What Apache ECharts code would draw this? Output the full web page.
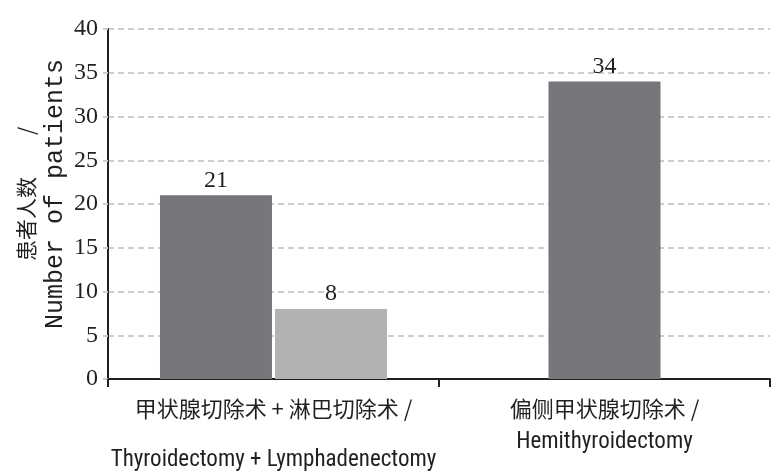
<!DOCTYPE html>
<html>
<head>
<meta charset="utf-8">
<script src="https://cdn.jsdelivr.net/npm/echarts@6/dist/echarts.min.js"></script>
<style>html,body{margin:0;padding:0;background:#fff;}#c{width:784px;height:476px;}</style>
</head>
<body>
<div id="c"></div>
<script>
var catCN = ['甲状腺切除术 + 淋巴切除术 /', '偏侧甲状腺切除术 /'];
var catEN = ['Thyroidectomy + Lymphadenectomy', 'Hemithyroidectomy'];
var categories = ['Thyroidectomy + Lymphadenectomy', 'Hemithyroidectomy'];
var darkValues = [21, '-'];
var lightValues = [8, '-'];
var hemiValues = ['-', 34];
var yTicks = [0, 5, 10, 15, 20, 25, 30, 35, 40];

var serif = 'Liberation Serif';
var narrow = 'Roboto Condensed';
var cjk = 'Noto Sans CJK SC';
var mono = 'Liberation Mono';
var ink = '#231f20';
var dark = '#77777b';
var light = '#b2b2b4';

var chart = echarts.init(document.getElementById('c'), null, {renderer: 'canvas'});
var valLabel = {show: true, position: 'top', distance: 3, color: ink, fontFamily: serif, fontSize: 24};
chart.setOption({
  animation: false,
  grid: {left: 108, right: 14, top: 29, bottom: 97, containLabel: false},
  xAxis: [{
    type: 'category',
    data: categories,
    boundaryGap: true,
    axisLine: {lineStyle: {color: ink, width: 2}},
    axisTick: {show: true, length: 8, lineStyle: {color: ink, width: 2}},
    axisLabel: {
      margin: 15,
      interval: 0,
      formatter: function (v, i) {
        return '{cn|' + catCN[i] + '}\n{' + (i === 0 ? 'en1' : 'en2') + '|' + catEN[i] + '}';
      },
      rich: {
        cn: {fontFamily: cjk, fontSize: 22, lineHeight: 30, color: ink},
        en1: {fontFamily: narrow, fontSize: 23, lineHeight: 72, color: ink},
        en2: {fontFamily: narrow, fontSize: 23, lineHeight: 36, color: ink}
      }
    }
  }, {
    type: 'category',
    data: categories,
    show: false
  }],
  yAxis: {
    type: 'value',
    min: yTicks[0],
    max: yTicks[yTicks.length - 1],
    interval: yTicks[1] - yTicks[0],
    name: '{cn|患者人数　　/}\n{en|Number of patients}',
    nameLocation: 'middle',
    nameGap: 38,
    nameMoveOverlap: false,
    nameTextStyle: {
      padding: [0, 0, 0, 20],
      rich: {
        cn: {fontFamily: cjk, fontSize: 21, lineHeight: 28, color: ink},
        en: {fontFamily: mono, fontSize: 25, lineHeight: 30, color: ink}
      }
    },
    axisLine: {show: true, lineStyle: {color: ink, width: 2}},
    axisTick: {show: true, length: 5, lineStyle: {color: '#cccccc', width: 2, type: [6, 4]}},
    axisLabel: {margin: 10, color: ink, fontFamily: serif, fontSize: 24},
    splitLine: {show: true, lineStyle: {color: '#cccccc', width: 2, type: [6, 4]}}
  },
  series: [{
    type: 'bar',
    xAxisIndex: 0,
    data: darkValues,
    barWidth: 112,
    barGap: '2.7%',
    itemStyle: {color: dark},
    label: valLabel
  }, {
    type: 'bar',
    xAxisIndex: 0,
    data: lightValues,
    barWidth: 112,
    barGap: '2.7%',
    itemStyle: {color: light},
    label: valLabel
  }, {
    type: 'bar',
    xAxisIndex: 1,
    data: hemiValues,
    barWidth: 112,
    itemStyle: {color: dark},
    label: valLabel
  }]
});
</script>
</body>
</html>
